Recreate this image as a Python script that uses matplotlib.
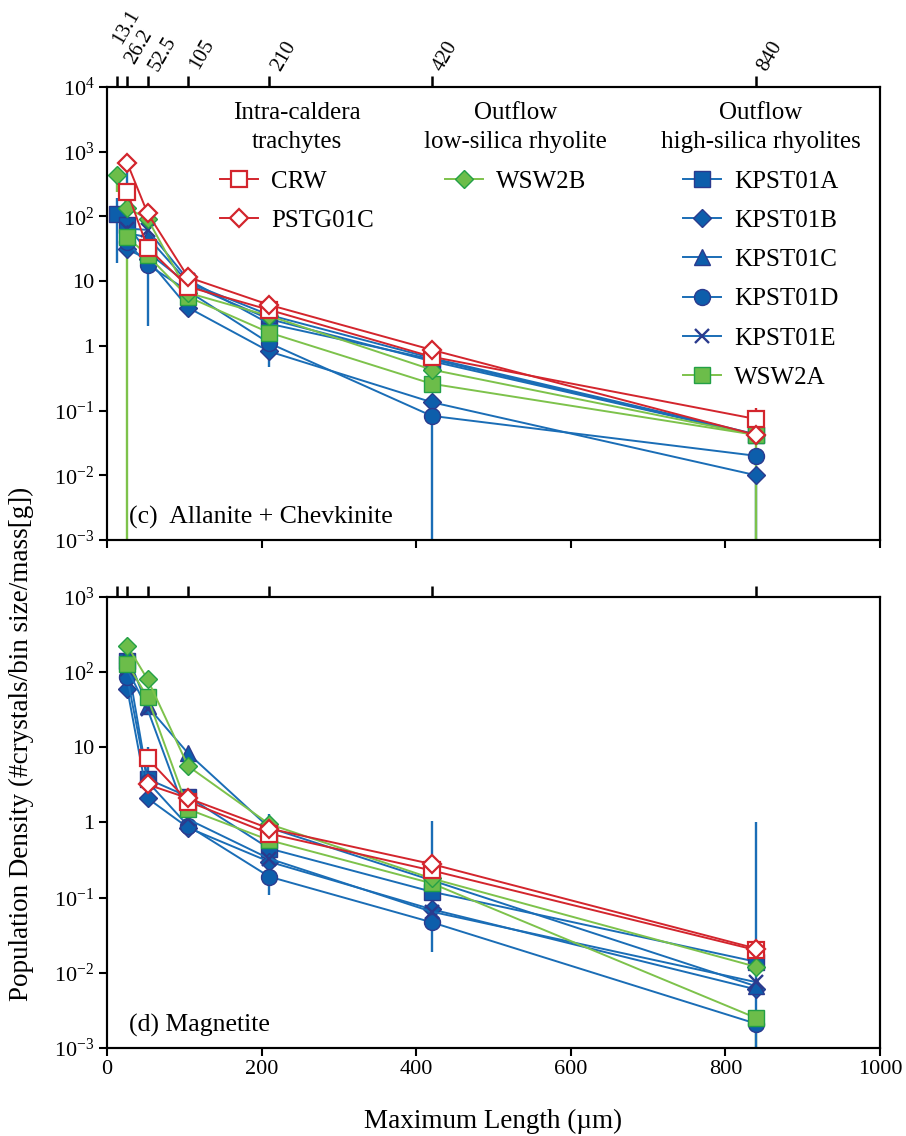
import numpy as np
import matplotlib
matplotlib.use("Agg")
import matplotlib.pyplot as plt
from matplotlib.lines import Line2D

plt.rcParams['font.family'] = ['Liberation Serif', 'DejaVu Serif']
plt.rcParams['mathtext.fontset'] = 'custom'
plt.rcParams['mathtext.rm'] = 'Liberation Serif'

# bin sizes (um) shown on the top axis
sizes = [13.1, 26.2, 52.5, 105, 210, 420, 840]
size_labels = ["13.1", "26.2", "52.5", "105", "210", "420", "840"]
nan = np.nan

# (c) Allanite + Chevkinite
c_CRW = [nan, 240, 33, 8.2, 3.6, 0.68, 0.074]
c_PSTG01C = [nan, 670, 112, 11.5, 4.3, 0.87, 0.042]
c_WSW2B = [430, 135, 92, 6.6, 2.9, 0.43, 0.042]
c_KPST01A = [108, 74, 28, 9.0, 2.6, 0.58, 0.042]
c_KPST01B = [nan, 31, 22, 3.9, 0.82, 0.135, 0.010]
c_KPST01C = [nan, 55, 48, 9.5, 3.0, 0.65, 0.043]
c_KPST01D = [nan, 40, 18, 7.0, 1.1, 0.083, 0.020]
c_KPST01E = [nan, 65, 62, 10.5, 2.2, 0.62, 0.042]
c_WSW2A = [nan, 48, 25, 5.7, 1.6, 0.26, 0.042]

# (d) Magnetite
d_CRW = [nan, nan, 7.1, 1.9, 0.71, 0.23, 0.020]
d_PSTG01C = [nan, nan, 3.2, 2.1, 0.83, 0.28, 0.021]
d_WSW2B = [nan, 225, 80, 5.6, 0.95, 0.18, 0.012]
d_KPST01A = [nan, 140, 3.8, 2.2, 0.45, 0.12, 0.014]
d_KPST01B = [nan, 60, 2.1, 0.85, 0.30, 0.07, 0.006]
d_KPST01C = [nan, 170, 35, 8.3, 0.85, 0.17, 0.0066]
d_KPST01D = [nan, 85, 3.5, 0.9, 0.19, 0.047, 0.0021]
d_KPST01E = [nan, 110, 32, 1.1, 0.33, 0.065, 0.0075]
d_WSW2A = [nan, 130, 46, 1.5, 0.58, 0.155, 0.0025]

# visible error bars (1e-4 = runs off the bottom of the axis)
c_err_series = ["KPST01A", "WSW2B", "KPST01A", "WSW2A", "KPST01D", "KPST01B",
                "KPST01B", "KPST01D", "KPST01B", "CRW", "WSW2A"]
c_err_x = [13.1, 13.1, 26.2, 26.2, 52.5, 105, 210, 420, 840, 840, 840]
c_err_lo = [19, 240, 74, 1e-4, 2.0, 2.8, 0.48, 1e-4, 1e-4, 0.074, 1e-4]
c_err_hi = [194, 585, 560, 48, 18, 3.9, 0.82, 0.083, 0.010, 0.11, 0.042]

d_err_series = ["KPST01A", "KPST01D", "KPST01D", "KPST01D", "WSW2A", "KPST01D"]
d_err_x = [52.5, 105, 210, 420, 840, 840]
d_err_lo = [3.8, 0.67, 0.107, 0.019, 1e-4, 1e-4]
d_err_hi = [10, 0.9, 1.3, 1.06, 0.0025, 1.0]

# offsets (points) of the rotated top labels, staggered so they don't collide
top_label_offsets = [(3, 30), (5, 16), (7, 11), (7.5, 12), (7.5, 11), (7.5, 11), (7.5, 11)]

red = "#d3252d"
blue = "#1a6db6"
bfill = "#0d5eab"
bedge = "#2b3b8e"
green = "#7dc24b"
gfill = "#6cbd4a"
gedge = "#23a046"

styles = {
    "CRW": dict(color=red, marker="s", mfc="white", mec=red, ms=11.5, mew=1.6),
    "PSTG01C": dict(color=red, marker="D", mfc="white", mec=red, ms=9.5, mew=1.6),
    "WSW2B": dict(color=green, marker="D", mfc=gfill, mec=gedge, ms=9.5),
    "KPST01A": dict(color=blue, marker="s", mfc=bfill, mec=bedge, ms=11.5),
    "KPST01B": dict(color=blue, marker="D", mfc=bfill, mec=bedge, ms=9.5),
    "KPST01C": dict(color=blue, marker="^", mfc=bfill, mec=bedge, ms=11.5),
    "KPST01D": dict(color=blue, marker="o", mfc=bfill, mec=bedge, ms=11.5),
    "KPST01E": dict(color=blue, marker="x", mfc=bedge, mec=bedge, ms=10, mew=1.7),
    "WSW2A": dict(color=green, marker="s", mfc=gfill, mec=gedge, ms=11.5),
}
draw_order = ["KPST01A", "KPST01B", "KPST01C", "KPST01D", "KPST01E",
              "WSW2A", "WSW2B", "CRW", "PSTG01C"]

c_data = {"CRW": c_CRW, "PSTG01C": c_PSTG01C, "WSW2B": c_WSW2B,
          "KPST01A": c_KPST01A, "KPST01B": c_KPST01B, "KPST01C": c_KPST01C,
          "KPST01D": c_KPST01D, "KPST01E": c_KPST01E, "WSW2A": c_WSW2A}
d_data = {"CRW": d_CRW, "PSTG01C": d_PSTG01C, "WSW2B": d_WSW2B,
          "KPST01A": d_KPST01A, "KPST01B": d_KPST01B, "KPST01C": d_KPST01C,
          "KPST01D": d_KPST01D, "KPST01E": d_KPST01E, "WSW2A": d_WSW2A}

fig = plt.figure(figsize=(9.06, 11.36), dpi=100)
ax1 = fig.add_axes([0.1181, 0.5246, 0.8532, 0.3988])
ax2 = fig.add_axes([0.1181, 0.0775, 0.8532, 0.3970])


def sup(k):
    if k == 0:
        return "1"
    if k == 1:
        return "10"
    return r"$\mathregular{10^{%d}}$" % k


def draw_panel(ax, data, ex, elo, ehi, eser, ymin_exp, ymax_exp, label, top_labels):
    x = np.array(sizes)
    for xi, lo, hi, s in zip(ex, elo, ehi, eser):
        ax.vlines(xi, lo, hi, color=styles[s]["color"], lw=1.7, zorder=1)
    for name in draw_order:
        y = np.array(data[name], dtype=float)
        ok = ~np.isnan(y)
        ax.plot(x[ok], y[ok], lw=1.4, zorder=2, **styles[name])
    ax.set_yscale("log")
    ax.set_xlim(0, 1000)
    ax.set_ylim(10.0 ** ymin_exp, 10.0 ** ymax_exp)
    exps = list(range(ymin_exp, ymax_exp + 1))
    ax.set_yticks([10.0 ** k for k in exps])
    ax.set_yticklabels([sup(k) for k in exps])
    ax.yaxis.set_minor_locator(matplotlib.ticker.NullLocator())
    ax.set_xticks([0, 200, 400, 600, 800, 1000])
    ax.tick_params(axis="both", direction="out", length=6, width=1.5,
                   labelsize=16, pad=3)
    for sp in ax.spines.values():
        sp.set_linewidth(1.5)
    ax.text(0.028, 0.05, label, transform=ax.transAxes, fontsize=18.5,
            ha="left", va="center")
    top = ax.twiny()
    top.set_xlim(0, 1000)
    top.set_xticks(sizes)
    top.set_xticklabels([])
    top.tick_params(axis="x", direction="out", length=8, width=1.8)
    for sp in top.spines.values():
        sp.set_linewidth(1.5)
    if top_labels:
        for s, lbl, off in zip(sizes, size_labels, top_label_offsets):
            top.annotate(lbl, xy=(s, 1), xycoords=("data", "axes fraction"),
                         xytext=off, textcoords="offset points",
                         rotation=60, ha="left", va="baseline",
                         rotation_mode="anchor", fontsize=15)
    return top


draw_panel(ax1, c_data, c_err_x, c_err_lo, c_err_hi, c_err_series, -3, 4,
           "(c)  Allanite + Chevkinite", True)
draw_panel(ax2, d_data, d_err_x, d_err_lo, d_err_hi, d_err_series, -3, 3,
           "(d) Magnetite", False)
ax1.set_xticklabels([])
ax2.set_xlabel("Maximum Length (µm)", fontsize=19.5, labelpad=21)

fig.text(0.024, 0.345, "Population Density (#crystals/bin size/mass[g])",
         rotation=90, ha="center", va="center", fontsize=19.5)

groups = [
    ("Intra-caldera\ntrachytes", ["CRW", "PSTG01C"], 0.246),
    ("Outflow\nlow-silica rhyolite", ["WSW2B"], 0.529),
    ("Outflow\nhigh-silica rhyolites", ["KPST01A", "KPST01B", "KPST01C",
                                        "KPST01D", "KPST01E", "WSW2A"], 0.846),
]
legends = []
for title, names, xc in groups:
    handles = [Line2D([], [], lw=1.4, **styles[n]) for n in names]
    leg = ax1.legend(handles, names, title=title, loc="upper center",
                     bbox_to_anchor=(xc, 0.994), frameon=False, borderpad=0,
                     fontsize=18, title_fontsize=18, handlelength=1.5,
                     handletextpad=0.55, labelspacing=0.67)
    leg.get_title().set_multialignment("center")
    leg.get_title().set_linespacing(1.42)
    legends.append(leg)
for leg in legends[:-1]:
    ax1.add_artist(leg)

fig.savefig("out.png", dpi=100)
